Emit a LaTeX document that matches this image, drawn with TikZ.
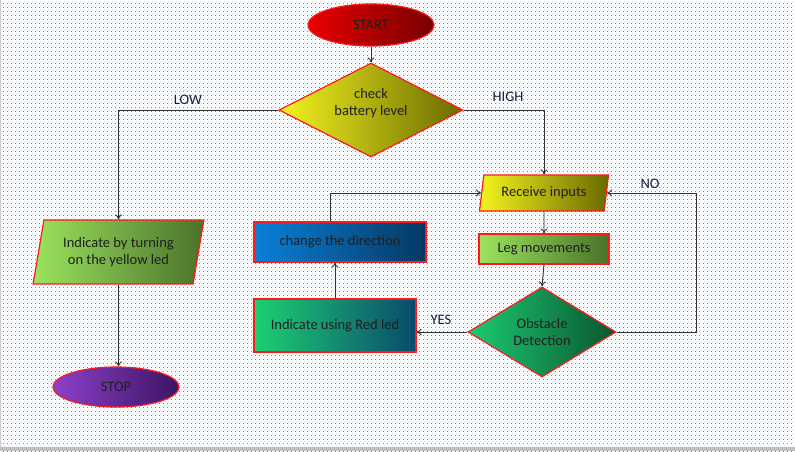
\documentclass[tikz,border=0pt]{standalone}
\usepackage{fontspec}
\setmainfont{Carlito}
\usetikzlibrary{shapes.geometric,patterns.meta,arrows.meta}
\tikzdeclarepattern{name=bgdots,type=uncolored,bounding box={(0,0) and (4pt,4pt)},tile size={(4pt,4pt)},
  code={\fill (0pt,0pt) rectangle (1.1pt,1.1pt); \fill (2pt,2pt) rectangle (3.1pt,3.1pt);}}
\definecolor{dotblue}{HTML}{4A8FD8}
\definecolor{edge}{HTML}{FF1A1A}
\definecolor{lnc}{HTML}{303030}
\definecolor{lbl}{HTML}{1A1A40}
\definecolor{redL}{HTML}{E80000}\definecolor{redR}{HTML}{780000}
\definecolor{yelL}{HTML}{F4F420}\definecolor{yelR}{HTML}{6A6A00}
\definecolor{grnL}{HTML}{9CE35E}\definecolor{grnR}{HTML}{4A722A}
\definecolor{purL}{HTML}{8C40CA}\definecolor{purR}{HTML}{3C1464}
\definecolor{obsL}{HTML}{1CCB72}\definecolor{obsR}{HTML}{0A5530}
\definecolor{rldL}{HTML}{1CD072}\definecolor{rldR}{HTML}{0A4A6C}
\definecolor{dirL}{HTML}{0A80D8}\definecolor{dirR}{HTML}{053864}
\begin{document}
\begin{tikzpicture}[x=1pt,y=-1pt,
  font=\fontsize{14.5}{17}\selectfont,
  box/.style={draw=edge,line width=1.2pt,text=black!88,align=center,inner sep=2pt},
  oval/.style={box,ellipse},
  dia/.style={box,diamond,inner sep=0pt},
  para/.style={box,trapezium,trapezium stretches=true},
  rect/.style={box,rectangle},
  grad/.style 2 args={left color=#1,middle color=#1!70!#2,right color=#2},
  arr/.style={draw=lnc,line width=0.9pt,-{To[length=5pt,width=7pt]}},
  lab/.style={text=lbl,inner sep=0pt}]
\fill[white] (0,0) rectangle (795,451);
\fill[pattern={bgdots},pattern color=dotblue] (0,0) rectangle (795,451);
\fill[black!25] (0,447) rectangle (795,451);
\fill[black!20] (0,0) rectangle (1,447);
\useasboundingbox (0,0) rectangle (795,451);

\node[oval,minimum width=126pt,minimum height=42pt,grad={redL}{redR}] (start) at (371,25) {START};
\node[dia,shape aspect=1.96,minimum width=184pt,minimum height=94pt,grad={yelL}{yelR}] (batt) at (371,110) {check\\battery level\\\mbox{}};
\node[para,trapezium left angle=76,trapezium right angle=104,minimum width=171pt,minimum height=64pt,grad={grnL}{grnR}] (yled) at (118.5,252) {Indicate by turning\\on the yellow led};
\node[oval,minimum width=126pt,minimum height=40pt,grad={purL}{purR}] (stop) at (116,387) {STOP};
\node[para,trapezium left angle=79,trapezium right angle=101,minimum width=130pt,minimum height=36pt,grad={yelL}{yelR}] (recv) at (544,193) {Receive inputs};
\node[rect,minimum width=130pt,minimum height=30pt,grad={grnL}{grnR}] (leg) at (544,249) {Leg movements};
\node[dia,shape aspect=1.64,minimum width=148pt,minimum height=90pt,grad={obsL}{obsR}] (obst) at (542,332) {Obstacle\\Detection};
\node[rect,minimum width=162pt,minimum height=53pt,grad={rldL}{rldR}] (red) at (335,325.5) {Indicate using Red led};
\node[rect,minimum width=172pt,minimum height=40pt,grad={dirL}{dirR}] (dir) at (340,242) {change the direction};

\draw[arr] (start.south) -- (batt.north);
\draw[arr] (batt.west) -| (yled.north);
\draw[arr] (batt.east) -| (recv.north);
\draw[arr] (yled.south) -- (yled.south |- stop.north);
\draw[arr] (recv.south) -- (leg.north);
\draw[arr] (leg.south) -- (obst.north);
\draw[arr] (obst.east) -| ([xshift=80pt]obst.east |- recv.east) -- (recv.east);
\draw[arr] (obst.west) -- (obst.west -| red.east);
\draw[arr] (red.north) -- (red.north |- dir.south);
\draw[arr] ([xshift=-10pt]dir.north) |- (recv.west);

\node[lab] (low) at (188,100) {LOW};
\node[lab] (high) at (508,97) {HIGH};
\node[lab] (yes) at (441,320) {YES};
\node[lab] (no) at (650,184) {NO};
\end{tikzpicture}
\end{document}
